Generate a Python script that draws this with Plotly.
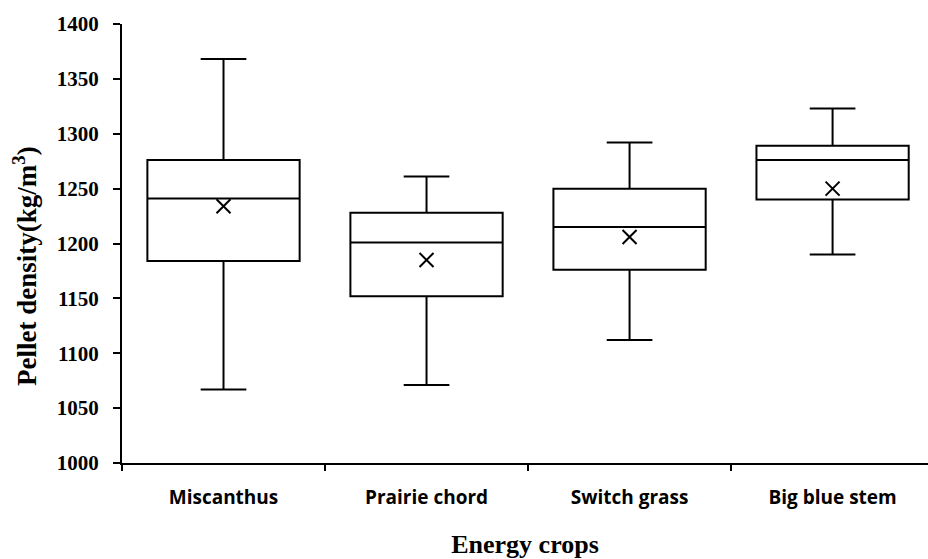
import plotly.graph_objects as go

# Pellet density summary statistics per energy crop (kg/m^3)
crops = ["Miscanthus", "Prairie chord", "Switch grass", "Big blue stem"]
lower_whisker = [1067, 1071, 1112, 1190]
q1_values = [1184, 1152, 1176, 1240]
median_values = [1241, 1201, 1215, 1276]
q3_values = [1276, 1228, 1250, 1289]
upper_whisker = [1368, 1261, 1292, 1323]
mean_values = [1234, 1185, 1206, 1250]

y_ticks = [1000, 1050, 1100, 1150, 1200, 1250, 1300, 1350, 1400]

fig = go.Figure()

fig.add_trace(go.Box(
    x=crops,
    q1=q1_values,
    median=median_values,
    q3=q3_values,
    lowerfence=lower_whisker,
    upperfence=upper_whisker,
    width=0.75,
    whiskerwidth=0.3,
    fillcolor="rgba(255,255,255,0)",
    line=dict(color="black", width=2),
    boxpoints=False,
    showlegend=False,
    hoverinfo="skip",
))

# Mean values drawn as crosses
fig.add_trace(go.Scatter(
    x=crops,
    y=mean_values,
    mode="markers",
    marker=dict(symbol="x-thin", size=14, line=dict(color="black", width=2)),
    showlegend=False,
    hoverinfo="skip",
))

serif_bold = dict(family="Liberation Serif", color="black", weight="bold")

fig.update_layout(
    width=928,
    height=559,
    margin=dict(l=122, r=0, t=24, b=96),
    paper_bgcolor="white",
    plot_bgcolor="white",
    showlegend=False,
    annotations=[
        dict(
            text="Pellet density(kg/m<sup>3</sup>)",
            xref="paper", yref="paper",
            x=-0.1203, y=0.4487,
            xanchor="center", yanchor="middle",
            textangle=-90,
            showarrow=False,
            font=dict(size=27, **serif_bold),
        )
    ],
)

fig.update_xaxes(
    type="category",
    range=[-0.5, 3.47],
    tickson="boundaries",
    ticks="outside",
    ticklen=6,
    tickwidth=2,
    tickcolor="black",
    showline=True,
    linecolor="black",
    linewidth=2,
    showgrid=False,
    zeroline=False,
    ticklabelstandoff=16,
    tickfont=dict(family="Open Sans", size=19, color="black", weight="bold"),
    title=dict(
        text="Energy crops",
        font=dict(size=26, **serif_bold),
        standoff=26,
    ),
)

fig.update_yaxes(
    range=[1000, 1400],
    tickvals=y_ticks,
    ticks="outside",
    ticklen=7,
    tickwidth=2,
    tickcolor="black",
    showline=True,
    linecolor="black",
    linewidth=2,
    showgrid=False,
    zeroline=False,
    ticklabelstandoff=10,
    tickfont=dict(size=21, **serif_bold),
)

fig.write_html("out.html")
